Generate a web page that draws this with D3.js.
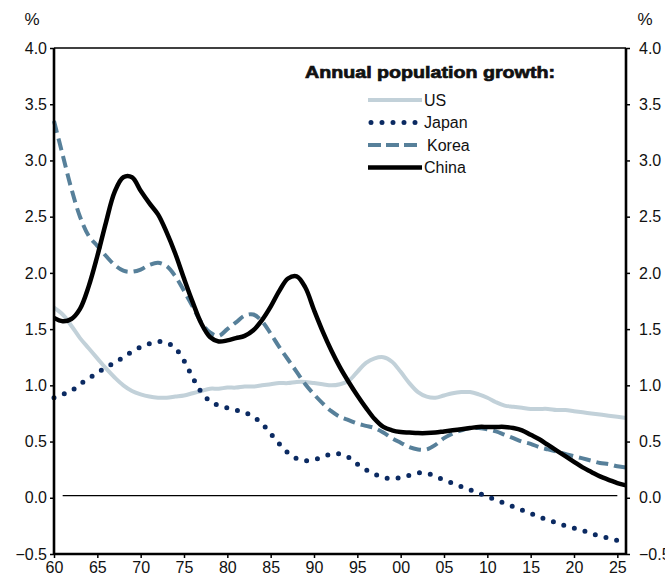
<!DOCTYPE html>
<html>
<head>
<meta charset="utf-8">
<script src="https://cdn.jsdelivr.net/npm/d3@7"></script>
<style>
    body { margin: 0; background: #fff; }
    text { font-family: "Liberation Sans", Arial, sans-serif; fill: #111; }
</style>
</head>
<body>
<script>

// anni e valori (crescita annua della popolazione, %)
const anni = d3.range(1960, 2027);

const valoriUS = [1.69, 1.63, 1.53, 1.42, 1.33, 1.24, 1.15, 1.07, 1.00, 0.95,
    0.92, 0.90, 0.89, 0.89, 0.90, 0.91, 0.93, 0.95, 0.97, 0.97,
    0.98, 0.98, 0.99, 0.99, 1.00, 1.01, 1.02, 1.02, 1.03, 1.03,
    1.02, 1.01, 1.00, 1.01, 1.04, 1.12, 1.20, 1.24, 1.25, 1.21,
    1.12, 1.02, 0.94, 0.90, 0.89, 0.91, 0.93, 0.94, 0.94, 0.92,
    0.89, 0.85, 0.82, 0.81, 0.80, 0.79, 0.79, 0.79, 0.78, 0.78,
    0.77, 0.76, 0.75, 0.74, 0.73, 0.72, 0.71];

const valoriJapan = [0.89, 0.92, 0.95, 1.01, 1.06, 1.11, 1.16, 1.20, 1.25, 1.30,
    1.34, 1.37, 1.39, 1.38, 1.33, 1.22, 1.07, 0.94, 0.86, 0.82,
    0.80, 0.78, 0.76, 0.72, 0.66, 0.57, 0.48, 0.40, 0.35, 0.33,
    0.34, 0.36, 0.39, 0.39, 0.36, 0.30, 0.25, 0.21, 0.18, 0.17,
    0.18, 0.20, 0.22, 0.22, 0.19, 0.16, 0.13, 0.10, 0.07, 0.04,
    0.01, -0.02, -0.05, -0.08, -0.11, -0.14, -0.17, -0.20, -0.22, -0.25,
    -0.27, -0.29, -0.32, -0.34, -0.36, -0.38, -0.39];

const valoriKorea = [3.35, 3.05, 2.75, 2.50, 2.33, 2.24, 2.15, 2.07, 2.02, 2.01,
    2.03, 2.07, 2.09, 2.06, 1.97, 1.84, 1.70, 1.56, 1.47, 1.44,
    1.50, 1.56, 1.62, 1.63, 1.57, 1.46, 1.34, 1.23, 1.12, 1.01,
    0.92, 0.84, 0.77, 0.72, 0.69, 0.66, 0.64, 0.62, 0.58, 0.53,
    0.49, 0.45, 0.43, 0.43, 0.47, 0.53, 0.57, 0.60, 0.62, 0.62,
    0.61, 0.59, 0.56, 0.53, 0.50, 0.48, 0.45, 0.43, 0.41, 0.39,
    0.37, 0.35, 0.33, 0.31, 0.30, 0.28, 0.27];

const valoriChina = [1.60, 1.57, 1.59, 1.68, 1.88, 2.15, 2.45, 2.72, 2.85, 2.85,
    2.73, 2.62, 2.52, 2.36, 2.17, 1.95, 1.74, 1.55, 1.43, 1.39,
    1.40, 1.42, 1.44, 1.49, 1.58, 1.70, 1.84, 1.95, 1.97, 1.87,
    1.67, 1.48, 1.31, 1.16, 1.03, 0.91, 0.80, 0.70, 0.63, 0.60,
    0.585, 0.58, 0.575, 0.575, 0.58, 0.59, 0.60, 0.61, 0.62, 0.63,
    0.63, 0.63, 0.63, 0.62, 0.60, 0.56, 0.52, 0.47, 0.42, 0.37,
    0.32, 0.27, 0.23, 0.19, 0.16, 0.13, 0.11];

const nomiSerie = ["US", "Japan", "Korea", "China"];
const tickAnni = [1960, 1965, 1970, 1975, 1980, 1985, 1990, 1995, 2000, 2005, 2010, 2015, 2020, 2025];
const tickValori = [-0.5, 0, 0.5, 1.0, 1.5, 2.0, 2.5, 3.0, 3.5, 4.0];
const lineaZero = { anni: [1961, 2025], valore: 0.02 };

const grafico = { sinistra: 54, destra: 626, alto: 48, basso: 554 };

const stili = {
    US: { colore: "#c2d1d9", spessore: 4, tratteggio: null, cap: "butt" },
    Japan: { colore: "#0b2a62", spessore: 5, tratteggio: "0,11", cap: "round" },
    Korea: { colore: "#57809a", spessore: 4, tratteggio: "12,6", cap: "butt" },
    China: { colore: "#000000", spessore: 4.5, tratteggio: null, cap: "butt" }
};

let serie = [
    { nome: "US", valori: valoriUS },
    { nome: "Japan", valori: valoriJapan },
    { nome: "Korea", valori: valoriKorea },
    { nome: "China", valori: valoriChina }
];

let svg = d3.select("body")
    .append("svg")
    .attr("width", 665)
    .attr("height", 573);

// scale
let scalaTempo = d3.scaleLinear()
    .domain([1960, 2026])
    .range([grafico.sinistra, grafico.destra]);

let scalaValori = d3.scaleLinear()
    .domain([-0.5, 4.0])
    .range([grafico.basso, grafico.alto]);

// linea zero
svg.append("line")
    .attr("x1", scalaTempo(lineaZero.anni[0]))
    .attr("x2", scalaTempo(lineaZero.anni[1]))
    .attr("y1", scalaValori(lineaZero.valore))
    .attr("y2", scalaValori(lineaZero.valore))
    .attr("stroke", "#000")
    .attr("stroke-width", 1.2);

// linee delle serie
let linea = d3.line()
    .x(function (d, i) { return scalaTempo(anni[i]) })
    .y(function (d) { return scalaValori(d) })
    .curve(d3.curveCatmullRom);

svg.selectAll(".serie")
    .data(serie)
    .enter()
    .append("path")
    .attr("class", "serie")
    .attr("fill", "none")
    .attr("stroke", function (d) { return stili[d.nome].colore })
    .attr("stroke-width", function (d) { return stili[d.nome].spessore })
    .attr("stroke-dasharray", function (d) { return stili[d.nome].tratteggio })
    .attr("stroke-linecap", function (d) { return stili[d.nome].cap })
    .attr("stroke-linejoin", "round")
    .attr("d", function (d) { return linea(d.valori) });

// assi
let asseSinistro = d3.axisLeft(scalaValori)
    .tickValues(tickValori)
    .tickFormat(d3.format(".1f"))
    .tickSize(4)
    .tickPadding(3);

let asseDestro = d3.axisRight(scalaValori)
    .tickValues(tickValori)
    .tickFormat(d3.format(".1f"))
    .tickSize(4)
    .tickPadding(9);

let asseTempo = d3.axisBottom(scalaTempo)
    .tickValues(tickAnni)
    .tickFormat(function (d) { return String(d).slice(2) })
    .tickSize(4)
    .tickPadding(4);

function stileAsse(g) {
    g.select(".domain").attr("stroke", "#000").attr("stroke-width", 2.6);
    g.selectAll(".tick line").attr("stroke", "#000").attr("stroke-width", 1.5);
    g.selectAll(".tick text")
        .style("font-family", "'Liberation Sans', Arial, sans-serif")
        .style("font-size", "16px")
        .attr("fill", "#111");
}

// bordo superiore
svg.append("line")
    .attr("x1", grafico.sinistra)
    .attr("x2", grafico.destra)
    .attr("y1", scalaValori(4.0))
    .attr("y2", scalaValori(4.0))
    .attr("stroke", "#000")
    .attr("stroke-width", 1.5);

svg.append("g")
    .attr("transform", `translate(${grafico.sinistra},0)`)
    .call(asseSinistro)
    .call(stileAsse)
    .call(function (g) { g.select(".domain").attr("d", `M0,${grafico.alto}V${grafico.basso}`) });

svg.append("g")
    .attr("transform", `translate(${grafico.destra},0)`)
    .call(asseDestro)
    .call(stileAsse)
    .call(function (g) { g.select(".domain").attr("d", `M0,${grafico.alto}V${grafico.basso}`) });

svg.append("g")
    .attr("transform", `translate(0,${grafico.basso})`)
    .call(asseTempo)
    .call(stileAsse)
    .call(function (g) { g.select(".domain").attr("d", `M${grafico.sinistra},0H${grafico.destra}`) });

// etichette unita'
svg.append("text").attr("x", 32).attr("y", 25)
    .attr("text-anchor", "middle").style("font-size", "17px").text("%");
svg.append("text").attr("x", 645).attr("y", 25)
    .attr("text-anchor", "middle").style("font-size", "17px").text("%");

// legenda
let legenda = svg.append("g").attr("transform", "translate(305,78)");

legenda.append("text")
    .attr("x", 0)
    .attr("y", 0)
    .attr("textLength", 250)
    .attr("lengthAdjust", "spacingAndGlyphs")
    .style("font-size", "17px")
    .style("font-weight", "bold")
    .style("stroke", "#111")
    .style("stroke-width", 0.7)
    .text("Annual population growth:");

let voci = legenda.selectAll(".voce")
    .data(nomiSerie)
    .enter()
    .append("g")
    .attr("class", "voce")
    .attr("transform", function (d, i) { return `translate(0,${22 + i * 22.5})` });

voci.append("line")
    .attr("x1", function (d) { return d == "Japan" ? 66 : 63 })
    .attr("x2", 117)
    .attr("y1", 0)
    .attr("y2", 0)
    .attr("stroke", function (d) { return stili[d].colore })
    .attr("stroke-width", function (d) { return stili[d].spessore })
    .attr("stroke-dasharray", function (d) { return d == "Korea" ? "13,5" : stili[d].tratteggio })
    .attr("stroke-linecap", function (d) { return stili[d].cap });

voci.append("text")
    .attr("x", function (d) { return d == "Korea" ? 122 : 119 })
    .attr("y", 5.5)
    .style("font-size", "16px")
    .text(function (d) { return d });

</script>
</body>
</html>
